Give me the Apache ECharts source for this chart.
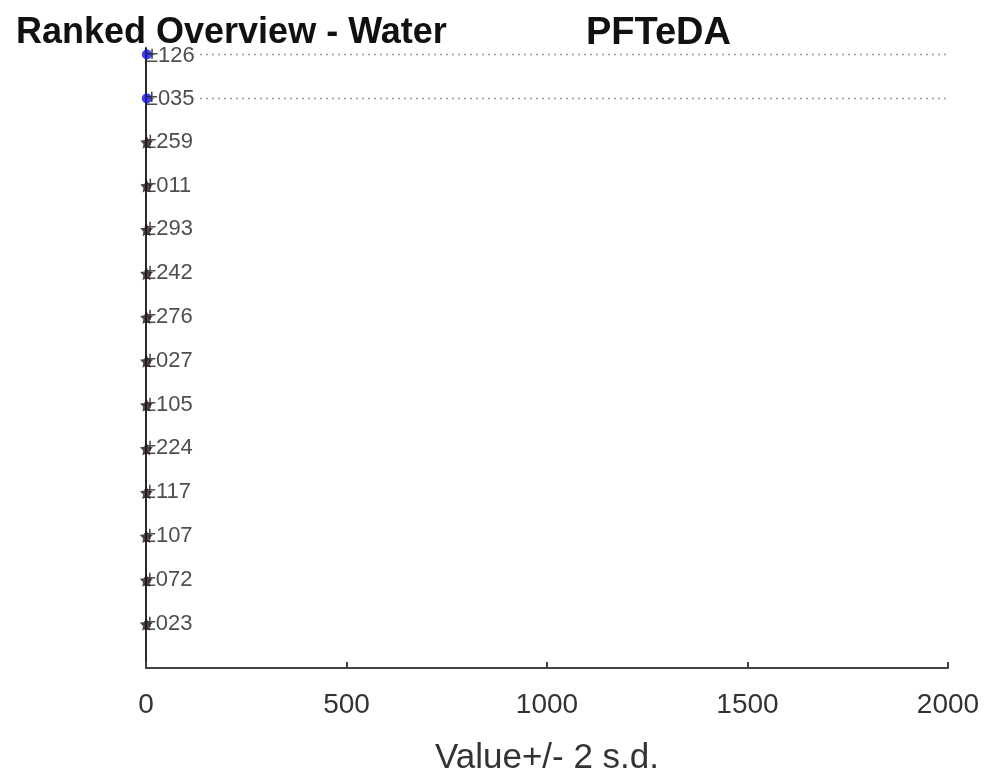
<!DOCTYPE html>
<html>
<head>
<meta charset="utf-8">
<script src="https://cdn.jsdelivr.net/npm/echarts@6/dist/echarts.min.js"></script>
<style>html,body{margin:0;padding:0;background:#fff}#c{width:993px;height:776px}</style>
</head>
<body>
<div id="c"></div>
<script>
// Lab codes, from bottom (rank 1) to top (rank 14)
const labs = ["023","072","107","117","224","105","027","276","242","293","011","259","035","126"];
const ranks = [1,2,3,4,5,6,7,8,9,10,11,12,13,14];
const values = [0.6,0.7,0.8,0.9,1.0,1.1,1.2,1.3,1.4,1.5,1.6,1.7,2.0,2.2];
const highlighted = ["126","035"];
const xTicks = [0,500,1000,1500,2000];

const starPath = 'path://M0,-10 L2.9,-4 L9.5,-3.1 L4.7,1.5 L5.9,8.1 L0,5 L-5.9,8.1 L-4.7,1.5 L-9.5,-3.1 L-2.9,-4 Z';

const pts = labs.map((l, i) => {
  const hi = highlighted.includes(l);
  return {
    value: [values[i], ranks[i]],
    symbol: hi ? 'circle' : starPath,
    symbolSize: hi ? 10 : 13,
    itemStyle: { color: hi ? '#1010e0' : '#231616' },
    label: { formatter: '{a|±}{b|' + l + '}' }
  };
});

const refLines = labs.map((l, i) => highlighted.includes(l) ? {
  type: 'line', data: [[xTicks[0], ranks[i]], [xTicks[xTicks.length - 1], ranks[i]]],
  symbol: 'none', silent: true, z: 1,
  lineStyle: { color: '#9a9a9a', width: 1.5, type: [2, 4] }
} : null).filter(Boolean);

const chart = echarts.init(document.getElementById('c'), null, { renderer: 'canvas' });
chart.setOption({
  animation: false,
  backgroundColor: '#fff',
  title: [
    { text: 'Ranked Overview - Water', left: 11, top: 10,
      textStyle: { fontFamily: 'Liberation Sans', fontWeight: 'bold', fontSize: 36, color: '#111' } },
    { text: 'PFTeDA', left: 581, top: 10,
      textStyle: { fontFamily: 'Liberation Sans', fontWeight: 'bold', fontSize: 38, color: '#111' } }
  ],
  grid: { left: 146, right: 45, top: 48, bottom: 108, containLabel: false, outerBoundsMode: 'none' },
  xAxis: {
    type: 'value', min: 0, max: 2000, interval: 500,
    name: 'Value+/- 2 s.d.', nameLocation: 'middle', nameGap: 73,
    nameTextStyle: { fontFamily: 'Liberation Sans', fontSize: 35, color: '#333' },
    axisLine: { show: true, lineStyle: { color: '#444', width: 2 } },
    axisTick: { show: true, inside: true, length: 6, lineStyle: { color: '#444', width: 2 } },
    axisLabel: { fontFamily: 'Liberation Sans', fontSize: 28, color: '#333', margin: 23,
      formatter: v => String(v) },
    splitLine: { show: false }
  },
  yAxis: {
    type: 'value', min: 0, max: 14.15,
    axisLine: { show: true, lineStyle: { color: '#2a2a20', width: 2 } },
    axisTick: { show: false }, axisLabel: { show: false }, splitLine: { show: false }
  },
  series: refLines.concat([{
    type: 'scatter', z: 5,
    data: pts,
    label: {
      show: true, position: [4, 6], align: 'left', verticalAlign: 'middle',
      rich: {
        a: { fontFamily: 'Liberation Sans', fontSize: 22, color: '#222' },
        b: { fontFamily: 'Liberation Sans', fontSize: 22, color: '#222', backgroundColor: '#fff', padding: [0, 4, 0, 0] }
      }
    }
  }])
});
</script>
</body>
</html>
